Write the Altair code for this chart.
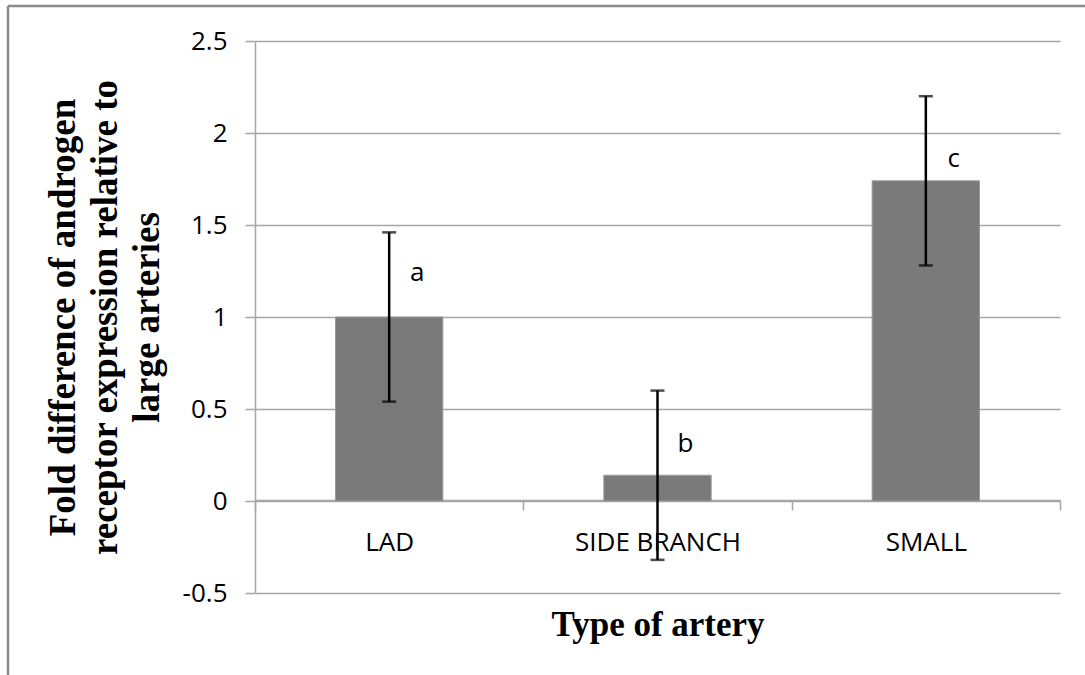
import altair as alt
import pandas as pd

categories = ["LAD", "SIDE BRANCH", "SMALL"]
means = [1.0, 0.14, 1.74]
errors = [0.46, 0.46, 0.46]
letters = ["a", "b", "c"]
letter_y = [1.24, 0.31, 1.86]
y_ticks = [-0.5, 0, 0.5, 1, 1.5, 2, 2.5]

df = pd.DataFrame({
    "cat": categories,
    "mean": means,
    "lo": [m - e for m, e in zip(means, errors)],
    "hi": [m + e for m, e in zip(means, errors)],
    "letter": letters,
    "ly": letter_y,
})

GRID = "#a6a6a6"
SANS = "Open Sans"
SERIF = "Liberation Serif"

x_enc = alt.X(
    "cat:N",
    sort=categories,
    scale=alt.Scale(paddingInner=0, paddingOuter=0),
    axis=alt.Axis(
        orient="bottom", offset=-93, tickBand="extent", grid=False,
        domainColor=GRID, domainWidth=1.5, tickColor=GRID, tickWidth=1.5, tickSize=10,
        labelFont=SANS, labelFontSize=26, labelColor="black", labelPadding=19, labelAngle=0,
        title="Type of artery", titleFont=SERIF, titleFontWeight="bold", titleFontSize=35,
        titleColor="black", titlePadding=52,
    ),
)

y_scale = alt.Scale(domain=[-0.5, 2.5], nice=False, zero=False)

base = alt.Chart(df)

bars = base.mark_bar(width=alt.RelativeBandSize(0.4), color="#7a7a7a", stroke="#9a9a9a", strokeWidth=1).encode(
    x=x_enc,
    y=alt.Y(
        "mean:Q", scale=y_scale,
        axis=alt.Axis(
            values=y_ticks, labelExpr="'' + datum.value", grid=True, gridColor=GRID, gridWidth=1.5,
            domainColor=GRID, domainWidth=1.5, tickColor=GRID, tickWidth=1.5, tickSize=10,
            labelFont=SANS, labelFontSize=26, labelColor="black", labelPadding=18,
            title=["Fold difference of androgen", "receptor expression relative to", "large arteries"],
            titleFont=SERIF, titleFontWeight="bold", titleFontSize=37, titleColor="black",
            titleLineHeight=42, titlePadding=16,
        ),
    ),
)

err = base.mark_rule(color="black", strokeWidth=2.5).encode(
    x=alt.X("cat:N", sort=categories), y="lo:Q", y2="hi:Q"
)
cap_lo = base.mark_tick(color="black", size=14, thickness=2.5).encode(
    x=alt.X("cat:N", sort=categories), y="lo:Q"
)
cap_hi = base.mark_tick(color="black", size=14, thickness=2.5).encode(
    x=alt.X("cat:N", sort=categories), y="hi:Q"
)
text = base.mark_text(dx=28, font=SANS, fontSize=26, color="black").encode(
    x=alt.X("cat:N", sort=categories), y="ly:Q", text="letter:N"
)

one = alt.Chart(pd.DataFrame({"k": [0]}))
border_top = one.mark_rule(color="#8a8a8a", strokeWidth=2.5).encode(
    x=alt.value(-247), x2=alt.value(835), y=alt.value(-35)
)
border_left = one.mark_rule(color="#8a8a8a", strokeWidth=2.5).encode(
    x=alt.value(-247), y=alt.value(-35), y2=alt.value(640)
)

chart = alt.layer(bars, err, cap_lo, cap_hi, text, border_top, border_left).properties(
    width=805, height=552,
    padding={"left": 255, "top": 41, "right": 25, "bottom": 82},
    autosize=alt.AutoSizeParams(type="none"),
    background="white",
).configure_view(stroke=None)

chart.save("out.html", embed_options={"renderer": "svg", "actions": False})
